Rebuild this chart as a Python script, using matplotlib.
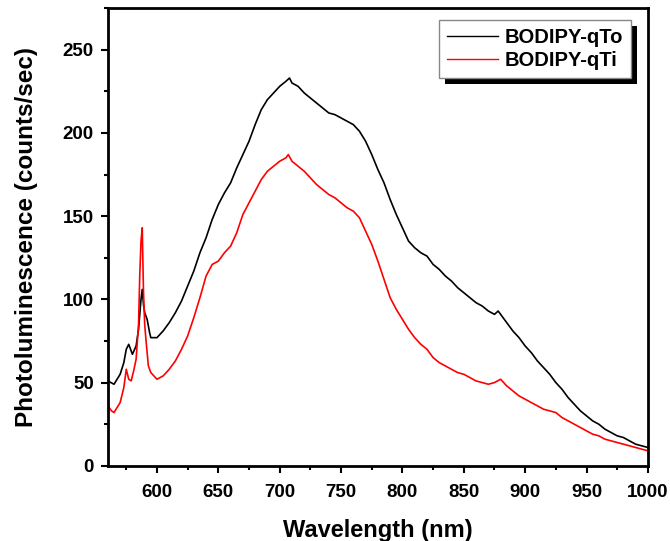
"""
Spectres de photoluminescence BODIPY-qTo / BODIPY-qTi.
"""

import matplotlib
matplotlib.use("Agg")
import matplotlib.pyplot as plt
from matplotlib.patches import Rectangle
from matplotlib.ticker import MultipleLocator

plt.rcParams["font.family"] = ["Liberation Sans", "DejaVu Sans"]
plt.rcParams["font.weight"] = "bold"

# Valeurs (nm, counts/sec)
wl_qto = [560, 565, 570, 573, 575, 577, 580, 583, 585, 587, 588, 589, 590, 592,
          594, 595, 600, 605, 610, 615, 620, 625, 630, 635, 640, 645, 650, 655,
          660, 665, 670, 675, 680, 685, 690, 695, 700, 705, 708, 710, 715, 720,
          725, 730, 735, 740, 745, 750, 755, 760, 765, 770, 775, 780, 785, 790,
          795, 800, 805, 810, 815, 820, 825, 830, 835, 840, 845, 850, 855, 860,
          865, 870, 875, 878, 880, 885, 890, 895, 900, 905, 910, 915, 920, 925,
          930, 935, 940, 945, 950, 955, 960, 965, 970, 975, 980, 985, 990, 995,
          1000]
pl_qto = [51, 49, 55, 62, 70, 73, 67, 72, 82, 100, 106, 97, 92, 88,
          80, 77, 77, 81, 86, 92, 99, 108, 117, 128, 137, 148, 157, 164,
          170, 179, 187, 195, 205, 214, 220, 224, 228, 231, 233, 230, 228, 224,
          221, 218, 215, 212, 211, 209, 207, 205, 201, 195, 187, 178, 170, 160,
          151, 143, 135, 131, 128, 126, 121, 118, 114, 111, 107, 104, 101, 98,
          96, 93, 91, 93, 91, 86, 81, 77, 72, 68, 63, 59, 55, 50,
          46, 41, 37, 33, 30, 27, 25, 22, 20, 18, 17, 15, 13, 12,
          11]

wl_qti = [560, 563, 565, 570, 573, 575, 577, 579, 581, 583, 585, 586, 587, 588,
          589, 590, 591, 593, 595, 600, 605, 610, 615, 620, 625, 630, 635, 640,
          645, 650, 655, 660, 665, 670, 675, 680, 685, 690, 695, 700, 705, 707,
          710, 715, 720, 725, 730, 735, 740, 745, 750, 755, 760, 765, 770, 775,
          780, 785, 790, 795, 800, 805, 810, 815, 820, 825, 830, 835, 840, 845,
          850, 855, 860, 865, 870, 875, 880, 885, 890, 895, 900, 905, 910, 915,
          920, 925, 930, 935, 940, 945, 950, 955, 960, 965, 970, 975, 980, 985,
          990, 995, 1000]
pl_qti = [36, 33, 32, 38, 47, 58, 52, 51, 57, 64, 85, 115, 135, 143,
          105, 85, 76, 60, 56, 52, 54, 58, 63, 70, 78, 89, 101, 114,
          121, 123, 128, 132, 140, 151, 158, 165, 172, 177, 180, 183, 185, 187,
          183, 180, 177, 173, 169, 166, 163, 161, 158, 155, 153, 149, 141, 133,
          123, 112, 101, 94, 88, 82, 77, 73, 70, 65, 62, 60, 58, 56,
          55, 53, 51, 50, 49, 50, 52, 48, 45, 42, 40, 38, 36, 34,
          33, 32, 29, 27, 25, 23, 21, 19, 18, 16, 15, 14, 13, 12,
          11, 10, 9]

fig = plt.figure(figsize=(6.7, 5.41), dpi=100)
ax = fig.add_axes([0.161, 0.139, 0.806, 0.846])

ax.plot(wl_qto, pl_qto, color="black", lw=1.2, label="BODIPY-qTo")
ax.plot(wl_qti, pl_qti, color="red", lw=1.2, label="BODIPY-qTi")

ax.set_xlim(560, 1000)
ax.set_ylim(0, 275)
ax.xaxis.set_major_locator(MultipleLocator(50))
ax.xaxis.set_minor_locator(MultipleLocator(25))
ax.yaxis.set_major_locator(MultipleLocator(50))
ax.yaxis.set_minor_locator(MultipleLocator(25))
ax.tick_params(which="both", direction="out", width=1.5, labelsize=13.5)
ax.tick_params(which="major", length=5)
ax.tick_params(which="minor", length=3)
ax.tick_params(axis="x", pad=8)
ax.tick_params(axis="y", pad=5)
for sp in ax.spines.values():
    sp.set_linewidth(2)

ax.set_xlabel("Wavelength (nm)", fontsize=17, fontweight="bold", labelpad=13)
ax.set_ylabel("Photoluminescence (counts/sec)", fontsize=17.5, fontweight="bold", labelpad=18)

leg = ax.legend(loc="upper right", bbox_to_anchor=(0.969, 0.974), borderaxespad=0,
                fancybox=False, shadow=False, handlelength=2.5, handletextpad=0.35,
                borderpad=0.4, labelspacing=0.2, fontsize=14.5,
                edgecolor="#888888", framealpha=1)
leg.get_frame().set_linewidth(1.0)
for ln in leg.get_lines():
    ln.set_linewidth(1.0)

# ombre noire décalée derrière la légende
fig.canvas.draw()
bb = leg.get_window_extent().transformed(fig.transFigure.inverted())
dx, dy = 6 / 670, 6 / 541
ombre = Rectangle((bb.x0 + dx, bb.y0 - dy), bb.width, bb.height,
                  transform=fig.transFigure, facecolor="black", edgecolor="none",
                  zorder=leg.get_zorder() - 0.1)
ax.add_artist(ombre)
ombre.set_clip_on(False)

fig.savefig("out.png", dpi=100)
